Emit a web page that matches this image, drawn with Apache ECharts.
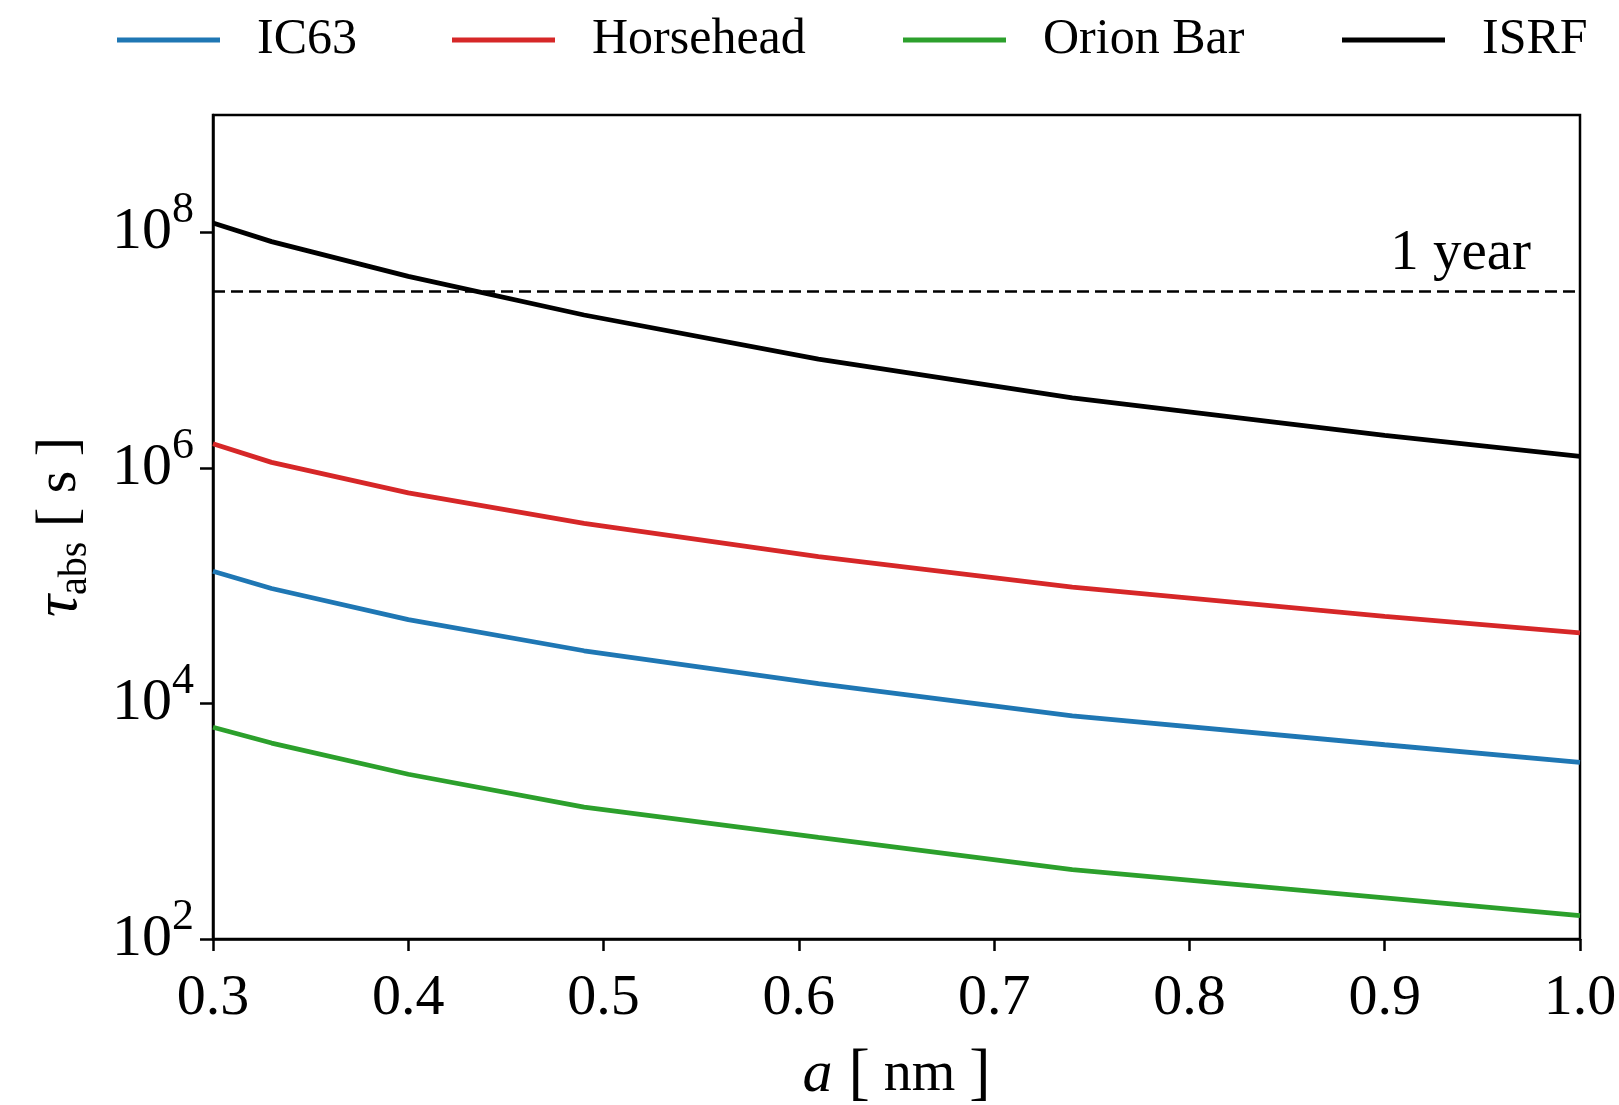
<!DOCTYPE html>
<html>
<head>
<meta charset="utf-8">
<script src="https://cdn.jsdelivr.net/npm/echarts@6/dist/echarts.min.js"></script>
<style>
	html, body { margin: 0; padding: 0; background: #fff; }
	#chart { width: 1619px; height: 1105px; }
</style>
</head>
<body>
<div id="chart"></div>
<script>
// grain radius a [nm]
const grainSize = [0.3, 0.33, 0.40, 0.49, 0.61, 0.74, 0.90, 1.0]
// absorption timescale [s] per radiation field
const tauIC63 = [1.33e5, 9.5e4, 5.16e4, 2.81e4, 1.48e4, 7.87e3, 4.47e3, 3.16e3]
const tauHorsehead = [1.61e6, 1.12e6, 6.17e5, 3.39e5, 1.77e5, 9.77e4, 5.5e4, 3.98e4]
const tauOrionBar = [6.3e3, 4.62e3, 2.51e3, 1.32e3, 731, 389, 224, 158]
const tauISRF = [1.21e8, 8.4e7, 4.26e7, 2.0e7, 8.45e6, 3.95e6, 1.9e6, 1.26e6]

const seriesNames = ["IC63", "Horsehead", "Orion Bar", "ISRF"]
const seriesColors = ["#1f77b4", "#d62728", "#2ca02c", "#000000"]
const yearSec = 3.156e7
const yTicks = [1e2, 1e4, 1e6, 1e8]
const xTicks = [0.3, 0.4, 0.5, 0.6, 0.7, 0.8, 0.9, 1.0]

const font = "Liberation Serif"
const legendLeft = [117, 452, 903, 1342]

const allTau = [tauIC63, tauHorsehead, tauOrionBar, tauISRF]

const series = allTau.map((tau, i) => {
	const s = {
		name: seriesNames[i],
		type: "line",
		symbol: "none",
		data: grainSize.map((a, j) => [a, tau[j]]),
		color: seriesColors[i],
		lineStyle: { color: seriesColors[i], width: 4.8 },
		z: 3
	}
	if (i === 3) {
		// 1 year reference line
		s.markLine = {
			silent: true,
			symbol: ["none", "none"],
			data: [{ yAxis: yearSec }],
			lineStyle: { color: "#000", width: 2.5, type: [12, 6] },
			label: {
				show: true,
				position: "insideEndTop",
				formatter: "1 year",
				fontFamily: font,
				fontSize: 57,
				color: "#000",
				padding: [0, 44, 4, 0]
			}
		}
	}
	return s
})

const legend = seriesNames.map((name, i) => ({
	data: [name],
	left: legendLeft[i],
	top: 15,
	padding: 0,
	icon: "rect",
	itemWidth: 103,
	itemHeight: 4.8,
	selectedMode: false,
	textStyle: {
		fontFamily: font,
		fontSize: 50,
		color: "#000",
		padding: [0, 0, 0, 32]
	}
}))

const chart = echarts.init(document.getElementById("chart"))
chart.setOption({
	animation: false,
	backgroundColor: "#fff",
	legend,
	grid: {
		left: 213,
		right: 39,
		top: 115,
		bottom: 166,
		show: true,
		borderColor: "#000",
		borderWidth: 2.5,
		outerBoundsMode: "none"
	},
	xAxis: {
		type: "value",
		min: 0.3,
		max: 1.0,
		interval: 0.1,
		axisLine: { show: true, lineStyle: { color: "#000", width: 2.5 } },
		axisTick: { show: true, length: 12, customValues: xTicks, lineStyle: { color: "#000", width: 2.5 } },
		axisLabel: {
			customValues: xTicks,
			margin: 31,
			fontFamily: font,
			fontSize: 58,
			color: "#000",
			formatter: v => v.toFixed(1)
		},
		splitLine: { show: false },
		name: "{i|a}{k| [}{b| nm }{k|]}",
		nameLocation: "middle",
		nameGap: 104,
		nameTextStyle: {
			rich: {
				i: { fontFamily: font, fontSize: 60, fontStyle: "italic", color: "#000" },
				b: { fontFamily: font, fontSize: 56, color: "#000" },
				k: { fontFamily: font, fontSize: 64, color: "#000" }
			}
		}
	},
	yAxis: {
		type: "log",
		logBase: 10,
		min: 1e2,
		max: 1e9,
		axisLine: { show: true, lineStyle: { color: "#000", width: 2.5 } },
		axisTick: { show: true, length: 13, customValues: yTicks, lineStyle: { color: "#000", width: 2.5 } },
		axisLabel: {
			customValues: yTicks,
			margin: 19,
			formatter: v => "{b|10}{s|" + Math.round(Math.log10(v)) + "}",
			rich: {
				b: { fontFamily: font, fontSize: 60, color: "#000", padding: [14, 0, 14, 0] },
				s: { fontFamily: font, fontSize: 44, color: "#000", verticalAlign: "top" }
			}
		},
		splitLine: { show: false },
		name: "{t|τ}{sub|abs}{b| [ s ]}",
		nameLocation: "middle",
		nameRotate: 90,
		nameGap: 118,
		nameTextStyle: {
			rich: {
				t: { fontFamily: font, fontSize: 62, fontStyle: "italic", color: "#000", lineHeight: 70 },
				sub: { fontFamily: font, fontSize: 40, color: "#000", verticalAlign: "bottom" },
				b: { fontFamily: font, fontSize: 58, color: "#000", lineHeight: 70 }
			}
		}
	},
	series
})
</script>
</body>
</html>
